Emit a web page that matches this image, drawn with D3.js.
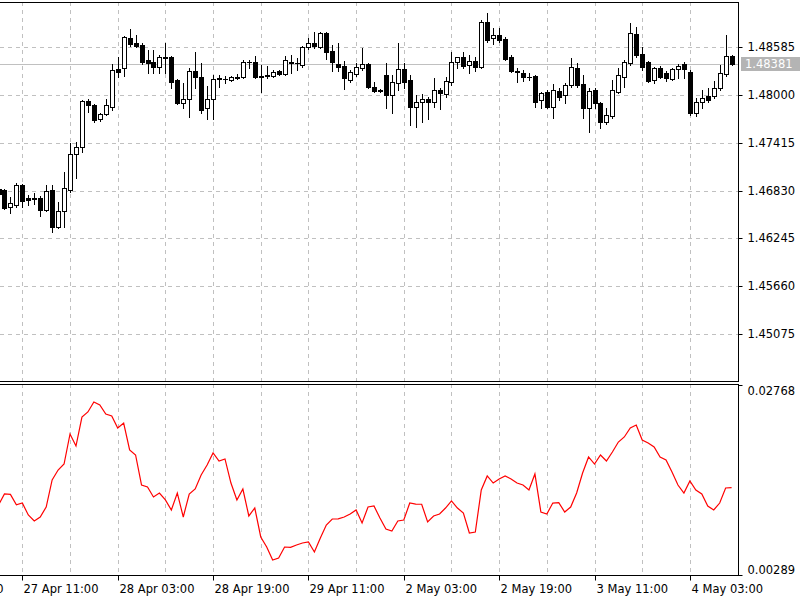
<!DOCTYPE html>
<html><head><meta charset="utf-8">
<script src="https://cdn.jsdelivr.net/npm/d3@7"></script>
<style>
body{margin:0;background:#fff}
svg{display:block}
text{font-family:"DejaVu Sans",sans-serif;}
</style>
</head><body>
<svg id="c" width="800" height="600"></svg>
<script>
// ---- Data (H1 bars) ----
const opens = [
1.46848,1.46836,1.46628,1.46653,1.46897,1.46738,1.46738,1.46738,1.46591,1.46836,
1.46384,1.46579,1.46836,1.47276,1.47362,1.47925,1.47876,1.47705,1.47766,1.47851,
1.48316,1.48328,1.48695,1.48634,1.48610,1.48426,1.48402,1.48341,1.48463,1.48463,
1.48182,1.47900,1.47949,1.48292,1.48218,1.47839,1.47949,1.48206,1.48194,1.48182,
1.48218,1.48218,1.48402,1.48402,1.48230,1.48243,1.48230,1.48292,1.48255,1.48402,
1.48389,1.48365,1.48585,1.48634,1.48585,1.48756,1.48536,1.48377,1.48353,1.48182,
1.48255,1.48328,1.48377,1.48096,1.48059,1.48243,1.47998,1.48145,1.48316,1.48182,
1.47851,1.47912,1.47949,1.47912,1.48059,1.48010,1.48157,1.48402,1.48463,1.48365,
1.48414,1.48341,1.48891,1.48695,1.48732,1.48683,1.48463,1.48292,1.48267,1.48218,
1.48230,1.47937,1.48035,1.47851,1.48047,1.47998,1.48120,1.48328,1.48133,1.47839,
1.48059,1.47900,1.47668,1.47741,1.48035,1.48218,1.48389,1.48744,1.48500,1.48402,
1.48182,1.48328,1.48267,1.48194,1.48316,1.48377,1.48279,1.47778,1.47912,1.47986,
1.47986,1.48084,1.48255,1.48475];
const highs = [
1.46909,1.46848,1.46750,1.46922,1.46909,1.46775,1.46799,1.46763,1.46897,1.46897,
1.46689,1.47056,1.47411,1.47423,1.47937,1.47949,1.47888,1.47778,1.47949,1.48377,
1.48463,1.48720,1.48805,1.48732,1.48634,1.48548,1.48548,1.48487,1.48634,1.48475,
1.48194,1.48145,1.48328,1.48524,1.48389,1.48108,1.48243,1.48243,1.48230,1.48230,
1.48255,1.48426,1.48426,1.48475,1.48365,1.48353,1.48304,1.48304,1.48475,1.48487,
1.48451,1.48597,1.48695,1.48769,1.48769,1.48769,1.48610,1.48634,1.48414,1.48304,
1.48389,1.48573,1.48389,1.48157,1.48071,1.48389,1.48243,1.48634,1.48389,1.48243,
1.47998,1.48010,1.47974,1.48206,1.48084,1.48218,1.48524,1.48463,1.48524,1.48487,
1.48463,1.48915,1.49001,1.48818,1.48818,1.48707,1.48487,1.48328,1.48304,1.48267,
1.48243,1.48035,1.48059,1.48133,1.48084,1.48145,1.48451,1.48389,1.48243,1.48084,
1.48084,1.47912,1.47839,1.48182,1.48328,1.48426,1.48879,1.48830,1.48585,1.48414,
1.48341,1.48353,1.48292,1.48328,1.48377,1.48402,1.48304,1.47961,1.48059,1.48084,
1.48169,1.48365,1.48732,1.48487];
const lows = [
1.46763,1.46604,1.46555,1.46628,1.46628,1.46653,1.46665,1.46518,1.46579,1.46322,
1.46371,1.46384,1.46812,1.46983,1.47301,1.47790,1.47668,1.47680,1.47753,1.47815,
1.48218,1.48230,1.48597,1.48585,1.48377,1.48267,1.48267,1.48267,1.48267,1.48084,
1.47888,1.47839,1.47729,1.48084,1.47778,1.47705,1.47705,1.48096,1.48145,1.48169,
1.48194,1.48206,1.48328,1.48206,1.48035,1.48206,1.48218,1.48243,1.48243,1.48267,
1.48304,1.48341,1.48561,1.48573,1.48573,1.48438,1.48292,1.48292,1.48071,1.48157,
1.48230,1.48304,1.48084,1.48035,1.48035,1.47839,1.47778,1.48059,1.48084,1.47631,
1.47607,1.47668,1.47705,1.47851,1.47827,1.47974,1.48120,1.48328,1.48328,1.48267,
1.48292,1.48328,1.48646,1.48622,1.48646,1.48426,1.48279,1.48157,1.48169,1.48182,
1.47851,1.47839,1.47839,1.47717,1.47937,1.47900,1.48096,1.48096,1.47717,1.47546,
1.47839,1.47594,1.47643,1.47717,1.48023,1.48096,1.48365,1.48463,1.48304,1.48157,
1.48145,1.48206,1.48169,1.48182,1.48206,1.48206,1.47753,1.47741,1.47839,1.47912,
1.47961,1.48059,1.48230,1.48365];
const closes = [
1.46787,1.46616,1.46677,1.46897,1.46702,1.46714,1.46726,1.46591,1.46824,1.46384,
1.46579,1.46861,1.47276,1.47362,1.47925,1.47876,1.47692,1.47766,1.47876,1.48304,
1.48279,1.48707,1.48622,1.48597,1.48402,1.48389,1.48341,1.48463,1.48451,1.48157,
1.47900,1.47949,1.48292,1.48218,1.47815,1.47949,1.48194,1.48194,1.48190,1.48218,
1.48206,1.48402,1.48398,1.48218,1.48218,1.48230,1.48279,1.48255,1.48426,1.48389,
1.48385,1.48585,1.48634,1.48597,1.48756,1.48524,1.48402,1.48341,1.48206,1.48279,
1.48341,1.48377,1.48096,1.48047,1.48047,1.47998,1.48157,1.48316,1.48157,1.47851,
1.47912,1.47949,1.47912,1.48059,1.48023,1.48169,1.48402,1.48463,1.48353,1.48414,
1.48341,1.48891,1.48671,1.48732,1.48671,1.48438,1.48292,1.48279,1.48218,1.48214,
1.47912,1.48023,1.47851,1.48059,1.47974,1.48120,1.48341,1.48120,1.47839,1.48047,
1.47900,1.47668,1.47753,1.48059,1.48243,1.48402,1.48756,1.48487,1.48341,1.48169,
1.48328,1.48218,1.48206,1.48316,1.48353,1.48316,1.47778,1.47912,1.47961,1.47937,
1.48084,1.48267,1.48475,1.48381];
const indicator = [
0.01202,0.01346,0.01340,0.01205,0.01228,0.01072,0.00994,0.01046,0.01176,0.01529,
0.01659,0.01737,0.02129,0.01972,0.02350,0.02416,0.02546,0.02507,0.02390,0.02364,
0.02207,0.02272,0.01920,0.01855,0.01463,0.01437,0.01307,0.01359,0.01268,0.01137,
0.01359,0.01046,0.01346,0.01411,0.01594,0.01724,0.01881,0.01776,0.01803,0.01489,
0.01268,0.01411,0.01059,0.01163,0.00785,0.00654,0.00485,0.00511,0.00654,0.00650,
0.00680,0.00707,0.00720,0.00589,0.00772,0.00941,0.01020,0.01022,0.01046,0.01085,
0.01137,0.00968,0.01176,0.01189,0.01033,0.00889,0.00863,0.00994,0.01007,0.01228,
0.01215,0.01212,0.00981,0.01059,0.01085,0.01163,0.01255,0.01163,0.01098,0.00837,
0.00850,0.01398,0.01581,0.01489,0.01542,0.01581,0.01542,0.01489,0.01463,0.01398,
0.01607,0.01111,0.01085,0.01228,0.01232,0.01111,0.01176,0.01359,0.01620,0.01829,
0.01737,0.01855,0.01776,0.01894,0.02024,0.02090,0.02207,0.02246,0.02050,0.02011,
0.01959,0.01829,0.01789,0.01633,0.01463,0.01359,0.01515,0.01398,0.01346,0.01189,
0.01137,0.01228,0.01424,0.01428];
const priceTicks = [1.48585,1.48000,1.47415,1.46830,1.46245,1.45660,1.45075];
const lastPrice = 1.48381;
const indicatorTicks = [0.02768,0.00289];
const timeLabels = ["26 Apr 19:00","27 Apr 11:00","28 Apr 03:00","28 Apr 19:00","29 Apr 11:00","2 May 03:00","2 May 19:00","3 May 11:00","4 May 03:00"];
const timeLabelBars = [-12,4,20,36,52,68,84,100,116];

// ---- Layout ----
const right = 738;
const mainTop = 2, mainBottom = 381;
const indTop = 384, indBottom = 575;
const gridColor = "#c0c0c0";
const dash = "4,4";

const svg = d3.select("#c");
const n = opens.length;
const x = d3.scaleLinear().domain([0, n - 1]).range([-1.5, 731.6]);
const y = d3.scaleLinear().domain([1.45075, 1.48585]).range([334, 47]);
const yi = d3.scaleLinear().domain([indicatorTicks[1], indicatorTicks[0]]).range([indBottom, indTop + 1]);
const px = i => Math.round(x(i)) + 0.5;
const py = v => Math.round(y(v)) + 0.5;

const defs = svg.append("defs");
defs.append("clipPath").attr("id","clipMain").append("rect")
  .attr("x",0).attr("y",mainTop).attr("width",right).attr("height",mainBottom-mainTop);
defs.append("clipPath").attr("id","clipInd").append("rect")
  .attr("x",0).attr("y",indTop).attr("width",right).attr("height",indBottom-indTop);

// grid - main
const gridBars = d3.range(4, n, 8);
const gMain = svg.append("g").attr("clip-path","url(#clipMain)");
gMain.selectAll("line.hg").data(priceTicks).join("line")
  .attr("x1",0).attr("x2",right).attr("y1",d=>py(d)).attr("y2",d=>py(d))
  .attr("stroke",gridColor).attr("stroke-dasharray",dash);
gMain.selectAll("line.vg").data(gridBars).join("line").attr("class","vg")
  .attr("x1",d=>px(d)).attr("x2",d=>px(d)).attr("y1",mainTop).attr("y2",mainBottom)
  .attr("stroke",gridColor).attr("stroke-dasharray",dash);

// current price line
gMain.append("line").attr("x1",0).attr("x2",right)
  .attr("y1",py(lastPrice)).attr("y2",py(lastPrice))
  .attr("stroke","#c0c0c0").attr("stroke-width",1);

// candles
const bars = d3.range(n);
gMain.selectAll("line.wick").data(bars).join("line").attr("class","wick")
  .attr("x1",px).attr("x2",px)
  .attr("y1",i=>Math.round(y(highs[i]))).attr("y2",i=>Math.round(y(lows[i]))+1)
  .attr("stroke","#000");
gMain.selectAll("g.body").data(bars).join(g => g.append("g").attr("class","body"))
  .each(function(i){
    const g = d3.select(this);
    const o = opens[i], c = closes[i];
    const yt = py(Math.max(o,c)), yb = py(Math.min(o,c));
    const cx = px(i);
    if (yb - yt < 1) {
      g.append("line").attr("x1",cx-2.5).attr("x2",cx+2.5).attr("y1",yt).attr("y2",yt).attr("stroke","#000");
    } else {
      g.append("rect").attr("x",cx-2).attr("y",yt).attr("width",4).attr("height",yb-yt)
        .attr("fill", c >= o ? "#fff" : "#000").attr("stroke","#000");
    }
  });

// frames main
svg.append("line").attr("x1",0).attr("x2",right+0.5).attr("y1",mainTop+0.5).attr("y2",mainTop+0.5).attr("stroke","#000");
svg.append("line").attr("x1",0).attr("x2",right+0.5).attr("y1",mainBottom+0.5).attr("y2",mainBottom+0.5).attr("stroke","#000");
svg.append("line").attr("x1",right+0.5).attr("x2",right+0.5).attr("y1",mainTop).attr("y2",mainBottom+1).attr("stroke","#000");

// price axis
const pAxis = svg.append("g").attr("transform",`translate(${right+0.5},0)`)
  .call(d3.axisRight(y).tickValues(priceTicks).tickFormat(d3.format(".5f")).tickSize(4).tickPadding(5));
pAxis.select(".domain").remove();
pAxis.selectAll(".tick").attr("transform", d => `translate(0,${py(d)})`);
pAxis.selectAll("text").attr("font-size","11.5px").attr("fill","#000").attr("font-family","DejaVu Sans");
pAxis.selectAll("line").attr("stroke","#000");

// last price tag
const ly = Math.round(y(lastPrice));
svg.append("rect").attr("x",741).attr("y",ly-7).attr("width",59).attr("height",14).attr("fill","#b4b4b4");
svg.append("text").attr("x",745).attr("y",ly).attr("dy","0.35em").attr("font-size","11.5px")
  .attr("fill","#fff").text(d3.format(".5f")(lastPrice));

// indicator panel
const gInd = svg.append("g").attr("clip-path","url(#clipInd)");
gInd.selectAll("line.vg").data(gridBars).join("line")
  .attr("x1",d=>px(d)).attr("x2",d=>px(d)).attr("y1",indTop).attr("y2",indBottom)
  .attr("stroke",gridColor).attr("stroke-dasharray",dash);
gInd.append("path").datum(bars)
  .attr("d", d3.line().x(i=>x(i)).y(i=>yi(indicator[i])))
  .attr("fill","none").attr("stroke","#ff0000").attr("stroke-width",1.2);

svg.append("line").attr("x1",0).attr("x2",right+0.5).attr("y1",indTop+0.5).attr("y2",indTop+0.5).attr("stroke","#000");
svg.append("line").attr("x1",0).attr("x2",right+0.5).attr("y1",indBottom+0.5).attr("y2",indBottom+0.5).attr("stroke","#000");
svg.append("line").attr("x1",right+0.5).attr("x2",right+0.5).attr("y1",indTop).attr("y2",indBottom+1).attr("stroke","#000");

// indicator axis
const iAxis = svg.append("g").attr("transform",`translate(${right+0.5},0)`)
  .call(d3.axisRight(yi).tickValues(indicatorTicks).tickFormat(d3.format(".5f")).tickSize(4).tickPadding(5));
iAxis.select(".domain").remove();
iAxis.selectAll("text").attr("font-size","11.5px").attr("fill","#000").attr("font-family","DejaVu Sans")
  .attr("dy", d => d === indicatorTicks[0] ? "0.85em" : "-0.15em");
iAxis.selectAll("line").attr("stroke","#000");

// time axis
const tAxis = svg.append("g").attr("transform",`translate(0,${indBottom+0.5})`)
  .call(d3.axisBottom(x).tickValues(timeLabelBars)
    .tickFormat((d,i)=>timeLabels[i]).tickSize(5).tickPadding(3));
tAxis.select(".domain").remove();
tAxis.selectAll(".tick").attr("transform", d => `translate(${px(d)},0)`);
tAxis.selectAll("text").attr("text-anchor","start").attr("x",1).attr("y",9)
  .attr("font-size","11.5px").attr("fill","#000").attr("font-family","DejaVu Sans");
tAxis.selectAll("line").attr("stroke","#000");
</script>
</body></html>
